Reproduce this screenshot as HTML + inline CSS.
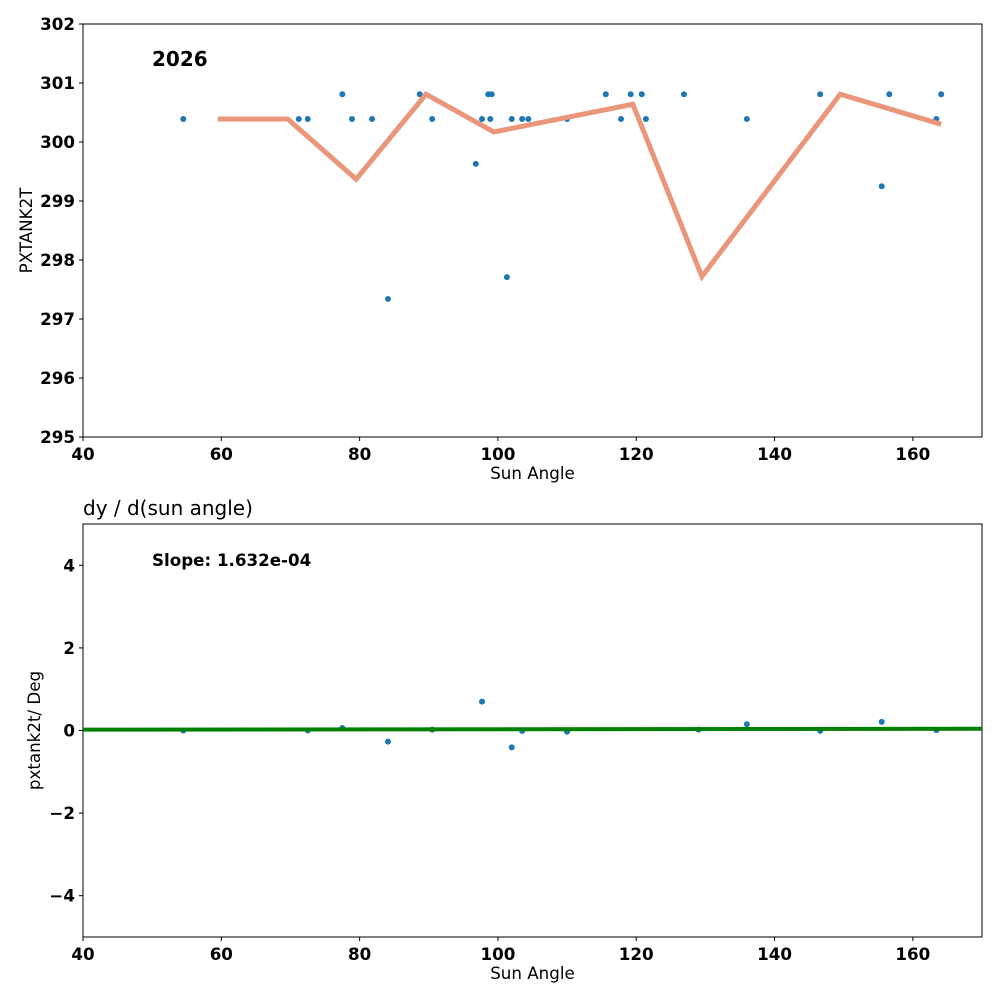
<!DOCTYPE html>
<html><head><meta charset="utf-8"><style>
body{margin:0;background:#fff;}
svg text{font-family:"DejaVu Sans","Liberation Sans",sans-serif;}
</style></head><body>
<svg id="chart" width="1000" height="1000" viewBox="0 0 1000 1000"></svg>
<script>
const topX=[54.5,71.2,72.5,77.5,78.9,81.8,84.1,88.7,90.5,96.8,97.7,98.6,98.9,99.1,101.3,102.0,103.5,104.4,110.0,115.6,117.8,119.2,120.8,121.4,126.9,136.0,146.6,155.5,156.6,163.4,164.1];
const topY=[300.39,300.39,300.39,300.81,300.39,300.39,297.34,300.81,300.39,299.63,300.39,300.81,300.39,300.81,297.71,300.39,300.39,300.39,300.39,300.81,300.39,300.81,300.81,300.39,300.81,300.39,300.81,299.25,300.81,300.39,300.81];
const lineX=[59.5,69.6,79.5,89.6,99.4,119.5,129.5,149.5,164.1];
const lineY=[300.39,300.39,299.37,300.81,300.17,300.64,297.72,300.81,300.30];
const botX=[54.5,72.5,77.5,84.1,90.5,97.7,102.0,103.5,110.0,129.0,136.0,146.6,155.5,163.4];
const botY=[0.0,0.0,0.06,-0.27,0.02,0.70,-0.41,-0.01,-0.03,0.02,0.15,-0.01,0.21,0.01];
const fitSlope=[0.0001632];
const fitIntercept=[0.015];
const xTicks=[40,60,80,100,120,140,160];
const topYTicks=[295,296,297,298,299,300,301,302];
const botYTicks=[-4,-2,0,2,4];

const NS="http://www.w3.org/2000/svg";
const svg=document.getElementById('chart');
function el(t,a,p){const e=document.createElementNS(NS,t);for(const k in a)e.setAttribute(k,a[k]);(p||svg).appendChild(e);return e;}
const L=83,R=982;
const sx=v=>L+(v-40)/(130)*(R-L);
const syT=v=>24+(302-v)/7*413;
const syB=v=>524+(5-v)/10*413;

function axes(top,bot,yT,yticks,sy,name,ylabel,fmt){
  const g=el('g',{});
  
  
  const r=el('rect',{x:L,y:top,width:R-L,height:bot-top,fill:'none',stroke:'#000','stroke-width':1},g);
  
  
  xTicks.forEach(t=>{
    el('line',{x1:sx(t),x2:sx(t),y1:bot,y2:bot+4,stroke:'#000'},g);
    const tx=el('text',{x:sx(t),y:bot+23,'text-anchor':'middle','font-size':16.7,'font-weight':'bold'},g);
    tx.textContent=t;
    
    
  });
  yticks.forEach(t=>{
    el('line',{x1:L-4,x2:L,y1:sy(t),y2:sy(t),stroke:'#000'},g);
    const tx=el('text',{x:L-8,y:sy(t)+6,'text-anchor':'end','font-size':16.7,'font-weight':'bold'},g);
    tx.textContent=fmt(t);
    
    
  });
  const xl=el('text',{x:(L+R)/2,y:bot+42,'text-anchor':'middle','font-size':16.7},g);
  xl.textContent='Sun Angle';
  
  
  const yl=el('text',{x:0,y:0,'text-anchor':'middle','font-size':16.7,transform:`translate(${yT},${(top+bot)/2}) rotate(-90)`},g);
  yl.textContent=ylabel;
  
  
}
axes(24,437,32,topYTicks,syT,'top-axes','PXTANK2T',t=>t);
axes(524,937,40,botYTicks,syB,'bottom-axes','pxtank2t/ Deg',t=>t<0?'\u2212'+(-t):t);

topX.forEach((x,i)=>{
  const c=el('circle',{cx:sx(x),cy:syT(topY[i]),r:3,fill:'#1f77b4'});
  
  
});
const pl=el('polyline',{points:lineX.map((x,i)=>sx(x)+','+syT(lineY[i])).join(' '),fill:'none',stroke:'#e9967a','stroke-width':5,'stroke-linejoin':'miter'});


const yr=el('text',{x:152,y:66,'font-size':20,'font-weight':'bold'});
yr.textContent='2026';



botX.forEach((x,i)=>{
  const c=el('circle',{cx:sx(x),cy:syB(botY[i]),r:3,fill:'#1f77b4'});
  
  
});
const fl=el('line',{x1:sx(40),y1:syB(fitIntercept[0]+fitSlope[0]*40),x2:sx(170),y2:syB(fitIntercept[0]+fitSlope[0]*170),stroke:'#008000','stroke-width':4});


const sl=el('text',{x:152,y:566,'font-size':16.7,'font-weight':'bold'});
sl.textContent='Slope: 1.632e-04';


const tt=el('text',{x:83,y:515,'font-size':20});
tt.textContent='dy / d(sun angle)';


</script>
</body></html>
